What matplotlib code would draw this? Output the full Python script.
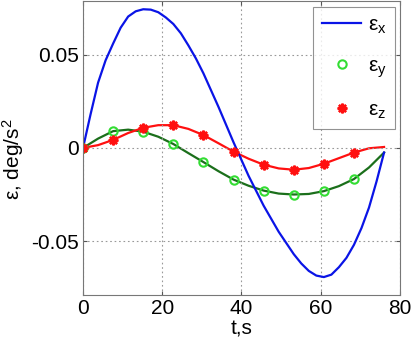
import matplotlib
matplotlib.use("Agg")
import matplotlib.pyplot as plt

plt.rcParams["font.family"] = ["Liberation Sans", "DejaVu Sans"]
plt.rcParams["mathtext.fontset"] = "custom"
plt.rcParams["mathtext.rm"] = "Liberation Sans"
plt.rcParams["mathtext.it"] = "Liberation Sans"

# ----------------------------
# Data
# ----------------------------
# eps_x, sampled finer because it bends more
t_x = [0, 1.9, 3.8, 5.7, 7.6, 9.5, 11.4, 13.3, 15.2, 17.1, 19.0, 20.9, 22.8, 24.7,
       26.6, 28.5, 30.4, 32.3, 34.2, 36.1, 38.0, 39.9, 41.8, 43.7, 45.6, 47.5,
       49.4, 51.3, 53.2, 55.1, 57.0, 58.9, 60.8, 62.7, 64.6, 66.5, 68.4, 70.3,
       72.2, 74.1, 76.0]
eps_x = [0.0, 0.018, 0.035, 0.047, 0.056, 0.0645, 0.0705, 0.0733, 0.0744, 0.0742,
         0.0728, 0.070, 0.0665, 0.0615, 0.055, 0.048, 0.040, 0.031, 0.022, 0.0125,
         0.003, -0.006, -0.015, -0.023, -0.031, -0.038, -0.045, -0.051, -0.057,
         -0.062, -0.066, -0.0685, -0.0693, -0.068, -0.064, -0.059, -0.052, -0.043,
         -0.032, -0.018, -0.0025]

t = [0, 3.8, 7.6, 11.4, 15.2, 19.0, 22.8, 26.6, 30.4, 34.2, 38.0,
     41.8, 45.6, 49.4, 53.2, 57.0, 60.8, 64.6, 68.4, 72.2, 76.0]

eps_y = [0.0, 0.005, 0.009, 0.0098, 0.0087, 0.006, 0.0021, -0.0028, -0.0076, -0.0125, -0.017,
         -0.0203, -0.0229, -0.0245, -0.025, -0.0247, -0.0232, -0.0205, -0.0167, -0.0105, -0.0025]

eps_z = [0.0, 0.0015, 0.0043, 0.008, 0.0108, 0.0122, 0.0122, 0.0102, 0.0069, 0.0025, -0.002,
         -0.0058, -0.009, -0.011, -0.0117, -0.0108, -0.0085, -0.0055, -0.0025, -0.0002, 0.0005]

# markers sit on every other sample (0 .. 68.4)
mark_every = 2
n_marks = 10

x_ticks = [0, 20, 40, 60, 80]
y_ticks = [-0.05, 0, 0.05]
y_tick_labels = ["-0.05", "0", "0.05"]

# ----------------------------
# Plot
# ----------------------------
fig = plt.figure(figsize=(4.11, 3.42), dpi=100)
ax = fig.add_axes([0.202, 0.137, 0.771, 0.861])

t_m = t[::mark_every][:n_marks]
ey_m = eps_y[::mark_every][:n_marks]
ez_m = eps_z[::mark_every][:n_marks]

ax.plot(t_x, eps_x, color="#0a14e6", lw=1.6, label=r"$\varepsilon_x$")
ax.plot(t_m, ey_m, ls="none", marker="o", ms=6, mfc="none", mec="#33dd33", mew=1.5,
        label=r"$\varepsilon_y$")
ax.plot(t_m, ez_m, ls="none", marker=(8, 2, 0), ms=7, mec="#ff1010", mew=1.7,
        label=r"$\varepsilon_z$")
ax.plot(t, eps_y, color="#1b6f1b", lw=1.6, zorder=1.5)
ax.plot(t, eps_z, color="#ff1010", lw=1.6, zorder=1.5)

ax.set_xlim(0, 80)
ax.set_ylim(-0.079, 0.079)
ax.set_xticks(x_ticks)
ax.set_yticks(y_ticks)
ax.set_yticklabels(y_tick_labels)
ax.tick_params(direction="in", length=3, labelsize=15, colors="#555555",
               labelcolor="black", top=True, right=True, pad=3)
ax.grid(True, ls=(0, (1.5, 2.5)), color="#999999", lw=0.8)
for s in ax.spines.values():
    s.set_color("#777777")
    s.set_linewidth(0.8)

ax.set_xlabel("t,s", fontsize=15, labelpad=1)
ax.set_ylabel(r"ε, deg/s$^2$", fontsize=15)
ax.yaxis.set_label_coords(-0.18, 0.46)

leg = ax.legend(loc="upper right", bbox_to_anchor=(0.983, 0.979), borderaxespad=0,
                fancybox=False, edgecolor="#777777", fontsize=15, handlelength=1.9,
                labelspacing=1.0, handletextpad=0.3, borderpad=0.4)
leg.get_frame().set_linewidth(0.8)

plt.savefig("out.png", dpi=100)
